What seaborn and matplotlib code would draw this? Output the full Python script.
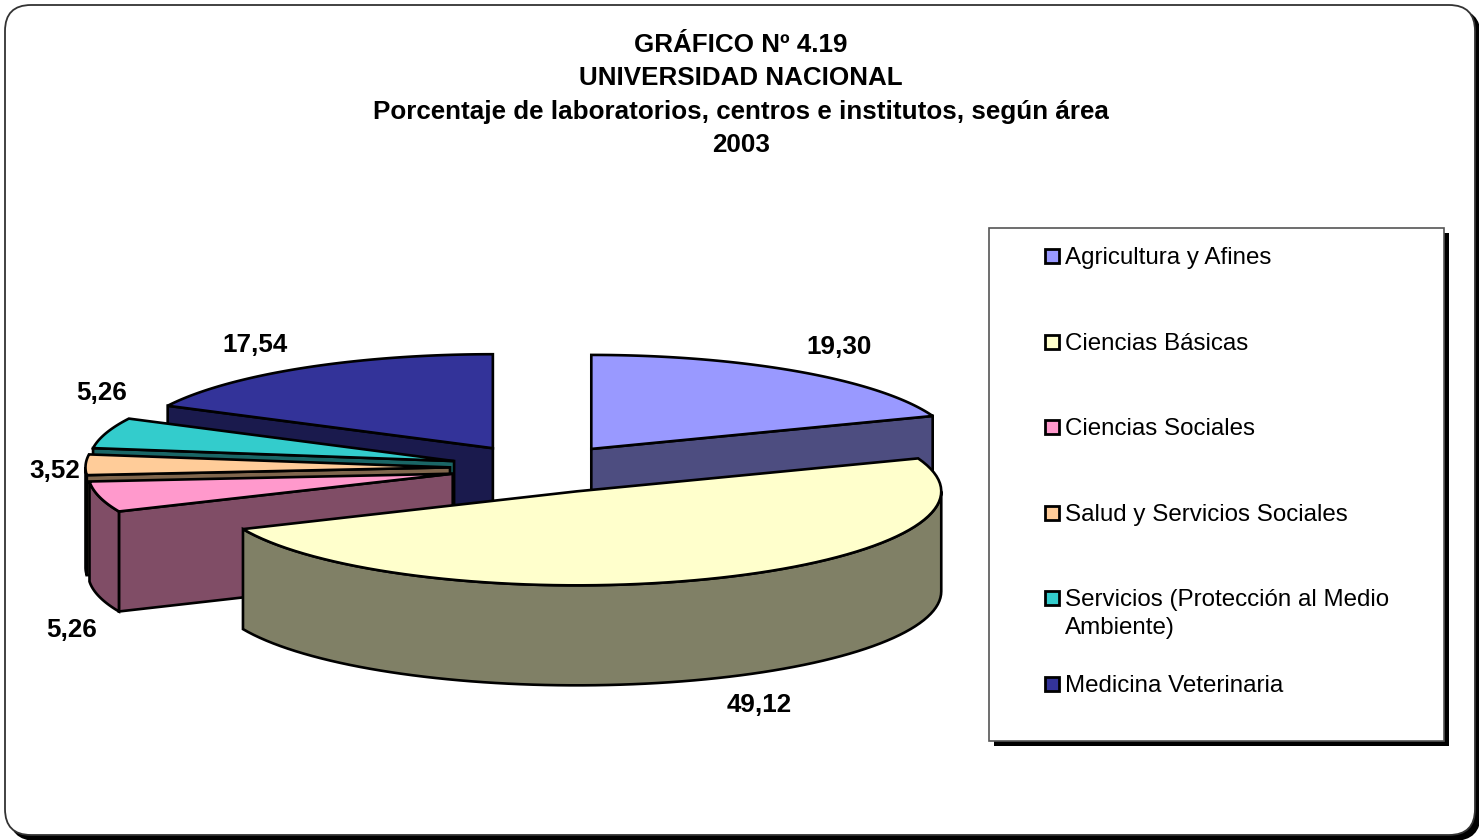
"""Exploded 3D-style pie: laboratorios, centros e institutos por area (2003)."""

import matplotlib
matplotlib.use("Agg")
import matplotlib.pyplot as plt
from matplotlib.patches import FancyBboxPatch, Polygon, Rectangle
import numpy as np
import seaborn as sns

title_lines = [
    "GRÁFICO Nº 4.19",
    "UNIVERSIDAD NACIONAL",
    "Porcentaje de laboratorios, centros e institutos, según área",
    "2003",
]
areas = [
    "Agricultura y Afines",
    "Ciencias Básicas",
    "Ciencias Sociales",
    "Salud y Servicios Sociales",
    "Servicios (Protección al Medio\nAmbiente)",
    "Medicina Veterinaria",
]
values = [19.30, 49.12, 5.26, 3.52, 5.26, 17.54]
top_colors = ["#9999FF", "#FFFFCC", "#FF99CC", "#FFCC99", "#33CCCC", "#333399"]
explode = [0.247, 0.268, 0.247, 0.247, 0.247, 0.247]

sns.set_theme(style="white")
plt.rcParams["font.family"] = ["Liberation Sans", "DejaVu Sans"]
palette = sns.color_palette(top_colors)
side_colors = [tuple(c * 0.5 for c in col) for col in palette]

# pie geometry, in picture pixels
CX, CY = 540, 468
RX, RY = 364.5, 94
DEPTH = 100
EDGE_LW = 1.9

fig = plt.figure(figsize=(14.79, 8.4), dpi=100)
ax = fig.add_axes([0, 0, 1, 1])
ax.set_xlim(0, 1479)
ax.set_ylim(840, 0)
ax.axis("off")

# rounded frame with its shadow
for offset, fc, ec, lw in [(5, "black", "black", 1.2), (0, "white", "#333333", 1.3)]:
    ax.add_patch(FancyBboxPatch((5 + offset, 5 + offset), 1470, 830,
                                boxstyle="round,pad=0,rounding_size=26",
                                fc=fc, ec=ec, lw=lw, zorder=1))


def rim(apex, a, b, n=80):
    t = np.radians(np.linspace(a, b, n))
    return np.column_stack([apex[0] + RX * np.sin(t), apex[1] - RY * np.cos(t)])


def draw_face(pts, color, z):
    ax.add_patch(Polygon(pts, closed=True, fc=color, ec="black", lw=EDGE_LW,
                         joinstyle="miter", zorder=z))


def draw_radial(apex, angle, color, z):
    p = rim(apex, angle, angle, 1)[0]
    draw_face([apex, p, (p[0], p[1] + DEPTH), (apex[0], apex[1] + DEPTH)], color, z)


edges = np.concatenate([[0], np.cumsum(values)]) * 3.6 * 100 / sum(values)
draw_order = [0, 5, 4, 3, 2, 1]
for rank, i in enumerate(draw_order):
    a, b = edges[i], edges[i + 1]
    mid = np.radians((a + b) / 2)
    apex = (CX + explode[i] * RX * np.sin(mid), CY - explode[i] * RY * np.cos(mid))
    z = 10 + rank * 5
    if np.sin(np.radians(a)) < 0:
        draw_radial(apex, a, side_colors[i], z)
    if np.sin(np.radians(b)) > 0:
        draw_radial(apex, b, side_colors[i], z)
    lo, hi = max(a, 90), min(b, 270)
    if hi > lo:
        arc = rim(apex, lo, hi)
        wall = np.vstack([arc, (arc + [0, DEPTH])[::-1]])
        draw_face(wall, side_colors[i], z + 1)
    top = np.vstack([[apex], rim(apex, a, b)])
    draw_face(top, palette[i], z + 2)

# value labels
label_pos = [(839, 347), (759, 705), (72, 630), (55, 471), (102, 393), (255, 345)]
for v, (x, y) in zip(values, label_pos):
    ax.text(x, y, f"{v:.2f}".replace(".", ","), ha="center", va="center",
            fontsize=18.7, fontweight="bold", color="black", zorder=60)

# title
for line, y in zip(title_lines, [45, 78, 112, 145]):
    ax.text(741, y, line, ha="center", va="center", fontsize=18.75,
            fontweight="bold", color="black", zorder=60)

# legend box, entries placed by hand to follow the original spacing
ax.add_patch(Rectangle((994, 233), 455, 513, fc="black", ec="none", zorder=40))
ax.add_patch(Rectangle((988.5, 227.5), 455, 513.5, fc="white", ec="#555555", lw=1.2, zorder=41))
legend_y = [256, 342, 427, 513, 598, 684]
for name, col, y in zip(areas, palette, legend_y):
    ax.add_patch(Rectangle((1045, y - 7), 14, 14, fc=col, ec="black", lw=2, zorder=42))
    ax.text(1065, y - 9, name, ha="left", va="top", fontsize=17.35, color="black",
            linespacing=1.33, zorder=42)

plt.savefig("out.png", dpi=100)
plt.close()
